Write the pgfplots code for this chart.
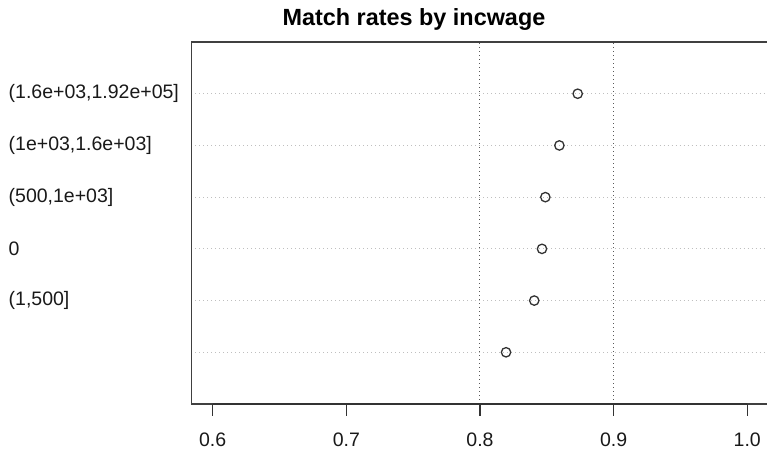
\documentclass[border=0pt]{standalone}
\usepackage{fontspec}
\setmainfont{Liberation Sans}
\usepackage{pgfplots}
\pgfplotsset{compat=1.18}
\begin{document}
\begin{tikzpicture}
\useasboundingbox (-95.75pt,-22.5pt) rectangle (287.75pt,202pt);
\begin{axis}[
  at={(0,0)}, anchor=south west,
  scale only axis, width=291.75pt, height=181pt,
  xmin=0.58414, xmax=1.02073, ymin=0, ymax=7,
  xtick={0.6,0.7,0.8,0.9,1.0},
  xticklabels={0.6,0.7,0.8,0.9,1.0},
  ytick={1,2,3,4,5,6},
  yticklabels={{},{(1,500]},{0},{(500,1e+03]},{(1e+03,1.6e+03]},{(1.6e+03,1.92e+05]}},
  axis line style={black!75, line width=0.6pt},
  tick align=outside, major tick length=5.85pt,
  xtick pos=bottom, ytick pos=right, yticklabel pos=left,
  tick style={black!75, line width=0.6pt},
  ymajorgrids,
  major grid style={black!25, line width=0.5pt, dash pattern=on 0.5pt off 1.5pt},
  ticklabel style={font=\fontsize{9.75}{11}\selectfont, text=black!90},
  xticklabel style={yshift=-5pt},
  yticklabel style={anchor=west, inner sep=0pt, xshift=-85.75pt},
  clip=false,
]
\draw[black!65, line width=0.5pt, dash pattern=on 0.5pt off 1.5pt] (axis cs:0.8,0) -- (axis cs:0.8,7);
\draw[black!65, line width=0.5pt, dash pattern=on 0.5pt off 1.5pt] (axis cs:0.9,0) -- (axis cs:0.9,7);
\addplot[black!80, line width=0.7pt, forget plot] coordinates {(0.6,0) (1.0,0)};
\addplot[black!80, line width=0.7pt, forget plot] coordinates {(0.6,0) (0.6,-0.226)};
\addplot[black!80, line width=0.7pt, forget plot] coordinates {(0.7,0) (0.7,-0.226)};
\addplot[black!80, line width=0.7pt, forget plot] coordinates {(0.8,0) (0.8,-0.226)};
\addplot[black!80, line width=0.7pt, forget plot] coordinates {(0.9,0) (0.9,-0.226)};
\addplot[black!80, line width=0.7pt, forget plot] coordinates {(1.0,0) (1.0,-0.226)};
\addplot[only marks, mark=o, mark size=2.35pt, black!80, mark options={line width=0.65pt, fill=white}]
  coordinates {(0.8195,1) (0.8406,2) (0.8464,3) (0.8489,4) (0.8594,5) (0.8731,6)};
\end{axis}
\node[anchor=base, font=\fontsize{11.7}{14}\bfseries\selectfont] at (111.25pt,189pt) {Match rates by incwage};
\end{tikzpicture}
\end{document}
